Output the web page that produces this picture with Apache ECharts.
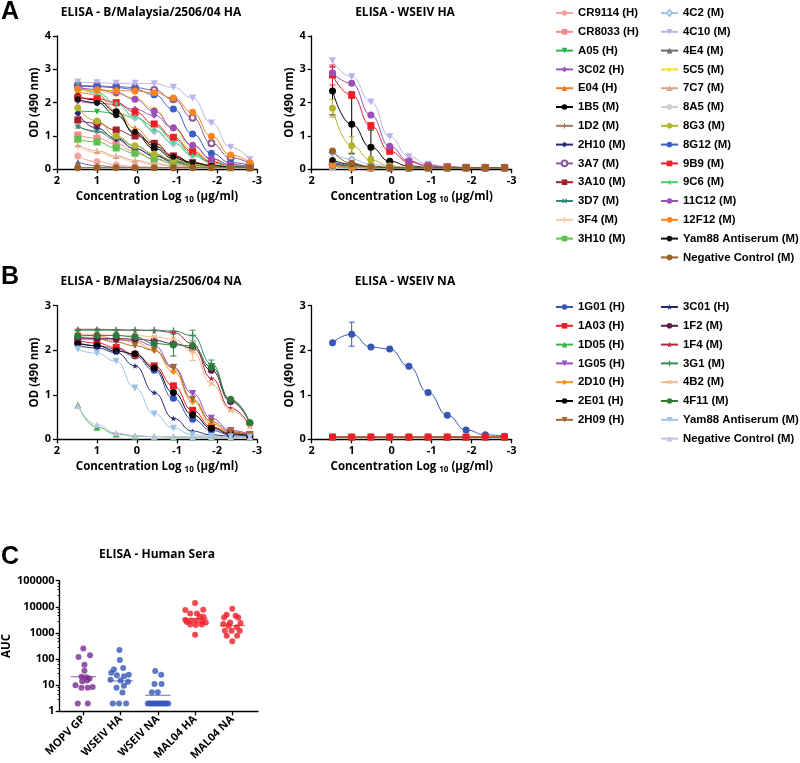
<!DOCTYPE html>
<html><head><meta charset="utf-8">
<script src="https://cdn.jsdelivr.net/npm/echarts@6/dist/echarts.min.js"></script>
<style>html,body{margin:0;padding:0;background:#fff}#c{width:800px;height:763px}</style>
</head><body><div id="c"></div>
<script>
// ---------- DATA ----------
const concLog = [1.48, 1.0, 0.52, 0.05, -0.43, -0.91, -1.39, -1.86, -2.34, -2.82];

// Panel A legend names (two columns)
const aNamesCol1 = ['CR9114 (H)','CR8033 (H)','A05 (H)','3C02 (H)','E04 (H)','1B5 (M)','1D2 (M)','2H10 (M)','3A7 (M)','3A10 (M)','3D7 (M)','3F4 (M)','3H10 (M)'];
const aNamesCol2 = ['4C2 (M)','4C10 (M)','4E4 (M)','5C5 (M)','7C7 (M)','8A5 (M)','8G3 (M)','8G12 (M)','9B9 (M)','9C6 (M)','11C12 (M)','12F12 (M)','Yam88 Antiserum (M)','Negative Control (M)'];

// Panel A left: ELISA - B/Malaysia/2506/04 HA  (OD 490 nm)
const aMalHA = {
 'CR9114 (H)': [0.40,0.23,0.13,0.08,0.06,0.05,0.05,0.05,0.05,0.05],
 'CR8033 (H)': [1.03,0.93,0.76,0.53,0.30,0.16,0.09,0.06,0.05,0.05],
 'A05 (H)':    [1.75,1.73,1.68,1.55,1.30,0.90,0.47,0.22,0.10,0.06],
 '3C02 (H)':   [2.05,1.98,1.95,1.80,1.62,1.23,0.71,0.31,0.13,0.08],
 'E04 (H)':    [2.32,2.25,1.75,1.23,0.80,0.42,0.20,0.10,0.07,0.05],
 '1B5 (M)':    [2.18,2.08,1.73,1.06,0.63,0.33,0.18,0.10,0.06,0.05],
 '1D2 (M)':    [1.30,1.12,0.88,0.62,0.42,0.25,0.14,0.09,0.06,0.05],
 '2H10 (M)':   [1.68,1.23,0.92,0.62,0.40,0.23,0.13,0.08,0.06,0.05],
 '3A7 (M)':    [2.52,2.50,2.48,2.45,2.38,2.10,1.55,0.78,0.35,0.17],
 '3A10 (M)':   [1.48,1.38,1.18,1.00,0.78,0.40,0.20,0.13,0.08,0.06],
 '3D7 (M)':    [1.28,1.15,0.95,0.70,0.45,0.26,0.14,0.09,0.06,0.05],
 '3F4 (M)':    [0.68,0.50,0.35,0.22,0.14,0.09,0.07,0.05,0.05,0.05],
 '3H10 (M)':   [0.90,0.82,0.64,0.48,0.32,0.19,0.11,0.07,0.05,0.05],
 '4C2 (M)':    [2.45,2.30,2.00,1.55,1.15,0.78,0.42,0.20,0.10,0.07],
 '4C10 (M)':   [2.62,2.60,2.58,2.58,2.57,2.46,2.14,1.39,0.66,0.29],
 '4E4 (M)':    [0.22,0.11,0.07,0.05,0.05,0.05,0.05,0.05,0.05,0.05],
 '5C5 (M)':    [2.38,2.35,2.25,2.15,1.82,1.22,0.58,0.26,0.12,0.08],
 '7C7 (M)':    [0.75,0.55,0.40,0.27,0.17,0.11,0.08,0.06,0.05,0.05],
 '8A5 (M)':    [0.06,0.05,0.05,0.05,0.05,0.05,0.05,0.05,0.05,0.05],
 '8G3 (M)':    [1.85,1.45,1.00,0.71,0.46,0.28,0.15,0.09,0.06,0.05],
 '8G12 (M)':   [2.50,2.48,2.45,2.40,2.24,1.81,1.06,0.48,0.20,0.12],
 '9B9 (M)':    [2.15,2.12,2.00,1.72,1.36,0.96,0.53,0.23,0.10,0.06],
 '9C6 (M)':    [2.55,2.30,1.98,1.58,1.18,0.80,0.42,0.19,0.09,0.06],
 '11C12 (M)':  [2.45,2.40,2.30,2.10,1.75,1.25,0.72,0.32,0.14,0.08],
 '12F12 (M)':  [2.40,2.38,2.36,2.35,2.30,2.14,1.71,0.99,0.43,0.20],
 'Yam88 Antiserum (M)': [2.10,2.00,1.62,1.12,0.70,0.38,0.20,0.11,0.07,0.05],
 'Negative Control (M)': [0.05,0.05,0.05,0.05,0.05,0.05,0.05,0.05,0.05,0.05]
};

// Panel A right: ELISA - WSEIV HA
const aWseivHA = {
 'CR9114 (H)': [0.05,0.05,0.05,0.05,0.05,0.05,0.05,0.05,0.05,0.05],
 'CR8033 (H)': [0.15,0.07,0.05,0.05,0.05,0.05,0.05,0.05,0.05,0.05],
 'A05 (H)':    [0.10,0.06,0.05,0.05,0.05,0.05,0.05,0.05,0.05,0.05],
 '3C02 (H)':   [0.12,0.07,0.05,0.05,0.05,0.05,0.05,0.05,0.05,0.05],
 'E04 (H)':    [0.08,0.05,0.05,0.05,0.05,0.05,0.05,0.05,0.05,0.05],
 '1B5 (M)':    [2.35,1.35,0.66,0.24,0.10,0.06,0.05,0.05,0.05,0.05],
 '1D2 (M)':    [0.10,0.06,0.05,0.05,0.05,0.05,0.05,0.05,0.05,0.05],
 '2H10 (M)':   [0.18,0.10,0.06,0.05,0.05,0.05,0.05,0.05,0.05,0.05],
 '3A7 (M)':    [0.15,0.08,0.05,0.05,0.05,0.05,0.05,0.05,0.05,0.05],
 '3A10 (M)':   [0.20,0.10,0.06,0.05,0.05,0.05,0.05,0.05,0.05,0.05],
 '3D7 (M)':    [0.22,0.12,0.07,0.05,0.05,0.05,0.05,0.05,0.05,0.05],
 '3F4 (M)':    [0.08,0.05,0.05,0.05,0.05,0.05,0.05,0.05,0.05,0.05],
 '3H10 (M)':   [0.10,0.06,0.05,0.05,0.05,0.05,0.05,0.05,0.05,0.05],
 '4C2 (M)':    [0.50,0.30,0.15,0.08,0.06,0.05,0.05,0.05,0.05,0.05],
 '4C10 (M)':   [3.26,2.78,2.02,0.98,0.38,0.15,0.08,0.06,0.05,0.05],
 '4E4 (M)':    [0.20,0.10,0.06,0.05,0.05,0.05,0.05,0.05,0.05,0.05],
 '5C5 (M)':    [0.10,0.06,0.05,0.05,0.05,0.05,0.05,0.05,0.05,0.05],
 '7C7 (M)':    [0.10,0.06,0.05,0.05,0.05,0.05,0.05,0.05,0.05,0.05],
 '8A5 (M)':    [0.05,0.05,0.05,0.05,0.05,0.05,0.05,0.05,0.05,0.05],
 '8G3 (M)':    [1.83,0.71,0.28,0.10,0.06,0.05,0.05,0.05,0.05,0.05],
 '8G12 (M)':   [0.10,0.06,0.05,0.05,0.05,0.05,0.05,0.05,0.05,0.05],
 '9B9 (M)':    [2.83,2.23,1.31,0.54,0.22,0.10,0.07,0.05,0.05,0.05],
 '9C6 (M)':    [0.10,0.06,0.05,0.05,0.05,0.05,0.05,0.05,0.05,0.05],
 '11C12 (M)':  [2.90,2.58,1.63,0.69,0.25,0.11,0.07,0.05,0.05,0.05],
 '12F12 (M)':  [0.12,0.07,0.05,0.05,0.05,0.05,0.05,0.05,0.05,0.05],
 'Yam88 Antiserum (M)': [0.28,0.15,0.08,0.05,0.05,0.05,0.05,0.05,0.05,0.05],
 'Negative Control (M)': [0.55,0.18,0.08,0.06,0.05,0.05,0.05,0.05,0.05,0.05]
};
// error bars (SD) for WSEIV HA
const aWseivHAErr = {
 '1B5 (M)': [0.72,0.87,0.52,0,0,0,0,0,0,0],
 '8G3 (M)': [0.27,0.26,0.10,0,0,0,0,0,0,0],
 '9B9 (M)': [0.30,0.10,0.08,0,0,0,0,0,0,0]
};

// Panel B legend names
const bNamesCol1 = ['1G01 (H)','1A03 (H)','1D05 (H)','1G05 (H)','2D10 (H)','2E01 (H)','2H09 (H)'];
const bNamesCol2 = ['3C01 (H)','1F2 (M)','1F4 (M)','3G1 (M)','4B2 (M)','4F11 (M)','Yam88 Antiserum (M) ','Negative Control (M) '];

// Panel B left: ELISA - B/Malaysia/2506/04 NA
const bMalNA = {
 '1G01 (H)': [2.17,2.10,2.03,1.87,1.55,0.92,0.45,0.20,0.10,0.07],
 '1A03 (H)': [2.22,2.16,2.06,1.90,1.65,1.20,0.65,0.28,0.14,0.10],
 '1D05 (H)': [0.77,0.27,0.12,0.07,0.06,0.05,0.05,0.05,0.05,0.05],
 '1G05 (H)': [2.25,2.25,2.23,2.22,2.10,1.62,1.03,0.47,0.20,0.11],
 '2D10 (H)': [2.38,2.32,2.25,2.18,2.00,1.52,0.85,0.35,0.15,0.09],
 '2E01 (H)': [2.15,2.10,1.98,1.92,1.60,1.05,0.55,0.25,0.12,0.08],
 '2H09 (H)': [2.30,2.25,2.18,2.10,2.00,1.60,0.90,0.40,0.17,0.10],
 '3C01 (H)': [2.10,2.05,1.95,1.65,1.05,0.47,0.18,0.10,0.07,0.06],
 '1F2 (M)':  [2.28,2.27,2.26,2.25,2.22,2.15,2.05,1.55,0.85,0.36],
 '1F4 (M)':  [2.47,2.47,2.46,2.45,2.44,2.40,2.15,1.37,0.70,0.30],
 '3G1 (M)':  [2.45,2.45,2.45,2.45,2.45,2.43,2.33,1.70,0.88,0.36],
 '4B2 (M)':  [2.35,2.35,2.34,2.33,2.30,2.25,1.97,1.25,0.65,0.28],
 '4F11 (M)': [2.32,2.33,2.33,2.30,2.15,2.12,2.10,1.62,0.90,0.38],
 'Yam88 Antiserum (M) ':  [2.02,1.93,1.75,1.15,0.57,0.25,0.10,0.07,0.06,0.05],
 'Negative Control (M) ': [0.75,0.33,0.14,0.08,0.06,0.06,0.05,0.05,0.05,0.05]
};
const bMalNAErr = {
 '4F11 (M)': [0,0,0,0,0,0.25,0,0,0,0],
 '4B2 (M)':  [0,0,0,0,0,0,0.2,0,0,0],
 '3G1 (M)':  [0,0,0,0,0,0,0.12,0.08,0,0]
};

// Panel B right: ELISA - WSEIV NA
const bWseivNA = {
 '1G01 (H)': [2.17,2.36,2.07,2.03,1.64,1.05,0.54,0.21,0.10,0.07],
 '1D05 (H)': [0.05,0.05,0.05,0.05,0.05,0.05,0.05,0.05,0.05,0.05],
 '2D10 (H)': [0.05,0.05,0.05,0.05,0.05,0.05,0.05,0.05,0.05,0.05],
 '4F11 (M)': [0.05,0.05,0.05,0.05,0.05,0.05,0.05,0.05,0.05,0.05],
 '1A03 (H)': [0.05,0.05,0.05,0.05,0.05,0.05,0.05,0.05,0.05,0.05]
};
const bWseivNAErr = { '1G01 (H)': [0,0.27,0,0,0,0,0,0,0,0] };

// Panel C: ELISA - Human Sera (AUC)
const cCats = ['MOPV GP','WSEIV HA','WSEIV NA','MAL04 HA','MAL04 NA'];
const cMOPV   = [255,120,140,61,36,21,20,18,14,15,10,8.5,8,8,2,2];
const cMOPVdx = [0,-0.13,0.18,0.03,0.03,-0.05,0.08,0.17,-0.03,0.1,-0.21,0.25,-0.05,0.12,-0.15,0.12];
const cWHA    = [220,93,45,40,30,24,22,25,16,15,13.5,8,9.4,5.2,2,2,2];
const cWHAdx  = [-0.03,-0.02,0.07,-0.18,-0.25,-0.1,0.09,0.22,-0.27,0,0.2,-0.11,0.09,0.05,-0.21,-0.04,0.15];
const cWNA    = [35,25,11,11,5.3,5.3,2,2,2,2,2,2,2,2,2,2,2,2];
const cWNAdx  = [-0.07,0.09,-0.09,0.1,-0.16,0,-0.27,-0.22,-0.17,-0.12,-0.07,-0.02,0.03,0.08,0.13,0.18,0.23,0.28];
const cMHA    = [14000,7500,7800,5600,5500,4300,4100,3100,3000,2900,2600,2700,2500,2100,2000,2100,850];
const cMHAdx  = [0,-0.26,0.22,-0.13,0.05,0.13,0.23,-0.26,-0.1,0.04,-0.22,0.19,0.29,-0.13,0.02,0.18,0];
const cMNA    = [8500,5000,4600,3900,3900,2500,2400,2200,1900,1650,1200,1200,1200,780,780,480];
const cMNAdx  = [0,-0.15,0.09,-0.22,0.16,-0.06,0.22,-0.24,-0.1,0.12,-0.2,-0.02,0.2,-0.15,0.13,0];
const cCentral = [21,14.5,4.1,3500,1900];

// ---------- STYLES ----------
const F = 'Open Sans';
const LF = 'Liberation Sans';
const PLUS = 'path://M0,4H10V6H0Z M4,0H6V10H4Z';
const STAR = 'path://M5,0L6.2,3.6L10,3.8L7,6.1L8.1,9.8L5,7.6L1.9,9.8L3,6.1L0,3.8L3.8,3.6Z';
const TEE = 'path://M0,4H10V6H0Z M4,0H6V6H4Z';
const styleA = {
 'CR9114 (H)': ['#f5a3a3','circle',7],
 'CR8033 (H)': ['#f28a8a','rect',7],
 'A05 (H)':    ['#2cb34a','triangle',6,180],
 '3C02 (H)':   ['#9b59b6','diamond',7],
 'E04 (H)':    ['#f47c20','triangle',7],
 '1B5 (M)':    ['#000000','circle',7],
 '1D2 (M)':    ['#9c7a5c',PLUS,6],
 '2H10 (M)':   ['#27287a','diamond',7],
 '3A7 (M)':    ['#8a5a9a','emptyCircle',6],
 '3A10 (M)':   ['#a3202a','rect',7],
 '3D7 (M)':    ['#2f8a78',PLUS,6,45],
 '3F4 (M)':    ['#f7c9a6',PLUS,6],
 '3H10 (M)':   ['#5cc24a','rect',7],
 '4C2 (M)':    ['#a3c4e6','emptyDiamond',6],
 '4C10 (M)':   ['#b9b5ea','triangle',7,180],
 '4E4 (M)':    ['#6b6b6b','triangle',6],
 '5C5 (M)':    ['#f2e22a',STAR,7],
 '7C7 (M)':    ['#d9a585',TEE,6],
 '8A5 (M)':    ['#cfcfcf','circle',6],
 '8G3 (M)':    ['#b4b42c','circle',7],
 '8G12 (M)':   ['#3a5fc4','circle',7],
 '9B9 (M)':    ['#ef1f28','rect',7],
 '9C6 (M)':    ['#4cd06a',STAR,6],
 '11C12 (M)':  ['#9b4fb8','circle',7],
 '12F12 (M)':  ['#f7861e','circle',7],
 'Yam88 Antiserum (M)':  ['#111111','circle',6],
 'Negative Control (M)': ['#9a6228','circle',7]
};
const styleB = {
 '1G01 (H)': ['#3656b5','circle',7],
 '1A03 (H)': ['#ee1c25','rect',7],
 '1D05 (H)': ['#3cb44b','triangle',7],
 '1G05 (H)': ['#9a4fc4','triangle',7,180],
 '2D10 (H)': ['#f7931e','diamond',7],
 '2E01 (H)': ['#000000','circle',7],
 '2H09 (H)': ['#a0692a','triangle',7,180],
 '3C01 (H)': ['#27287a',STAR,6],
 '1F2 (M)':  ['#5e1a4c','circle',7],
 '1F4 (M)':  ['#b02a3e',STAR,6],
 '3G1 (M)':  ['#3a8a5e',PLUS,7],
 '4B2 (M)':  ['#f7b98a',PLUS,7,45],
 '4F11 (M)': ['#2f7a3a','circle',7],
 'Yam88 Antiserum (M) ':  ['#9cc3e6','triangle',7,180],
 'Negative Control (M) ': ['#c3c0ea','triangle',6]
};

function curve(name, vals, st, gi) {
 return {
  type:'line', name, xAxisIndex:gi, yAxisIndex:gi,
  data: concLog.map((x,i)=>[x, vals[i]]),
  smooth:0.5, smoothMonotone:'x',
  symbol: st[1], symbolSize: st[2], symbolRotate: st[3]||0,
  itemStyle:{color:st[0], borderWidth: st[1].startsWith('empty')?1.2:0},
  lineStyle:{color:st[0], width:1},
  emphasis:{disabled:true}, animation:false, z:3
 };
}
function errBars(vals, errs, color, gi) {
 const d = [];
 concLog.forEach((x,i)=>{ if (errs[i] > 0) d.push([x, vals[i], errs[i]]); });
 return {
  type:'custom', xAxisIndex:gi, yAxisIndex:gi, data:d, z:2, animation:false, silent:true,
  renderItem(params, api) {
   const x = api.value(0), y = api.value(1), e = api.value(2);
   const p1 = api.coord([x, y+e]), p2 = api.coord([x, Math.max(0,y-e)]);
   const w = 3, s = {stroke:color, lineWidth:1};
   return {type:'group', children:[
    {type:'line', shape:{x1:p1[0],y1:p1[1],x2:p2[0],y2:p2[1]}, style:s},
    {type:'line', shape:{x1:p1[0]-w,y1:p1[1],x2:p1[0]+w,y2:p1[1]}, style:s},
    {type:'line', shape:{x1:p2[0]-w,y1:p2[1],x2:p2[0]+w,y2:p2[1]}, style:s}
   ]};
  }
 };
}

const series = [];
Object.keys(aMalHA).forEach(n => series.push(curve(n, aMalHA[n], styleA[n], 0)));
Object.keys(aWseivHA).forEach(n => series.push(curve(n, aWseivHA[n], styleA[n], 1)));
Object.keys(aWseivHAErr).forEach(n => series.push(errBars(aWseivHA[n], aWseivHAErr[n], styleA[n][0], 1)));
Object.keys(bMalNA).forEach(n => series.push(curve(n, bMalNA[n], styleB[n], 2)));
Object.keys(bMalNAErr).forEach(n => series.push(errBars(bMalNA[n], bMalNAErr[n], styleB[n][0], 2)));
Object.keys(bWseivNA).forEach(n => series.push(curve(n, bWseivNA[n], styleB[n], 3)));
Object.keys(bWseivNAErr).forEach(n => series.push(errBars(bWseivNA[n], bWseivNAErr[n], styleB[n][0], 3)));

const cGroups = [[cMOPV,cMOPVdx,'#7b2a8e'],[cWHA,cWHAdx,'#3656b5'],[cWNA,cWNAdx,'#3656b5'],[cMHA,cMHAdx,'#ee1c25'],[cMNA,cMNAdx,'#ee1c25']];
cGroups.forEach((g,ci)=>{
 series.push({type:'scatter', xAxisIndex:4, yAxisIndex:4, symbol:'circle', symbolSize:6,
  itemStyle:{color:g[2]}, data:g[0].map((v,i)=>[ci+g[1][i], v]), animation:false, silent:true, z:3});
 series.push({type:'line', xAxisIndex:4, yAxisIndex:4, symbol:'none',
  lineStyle:{color:g[2], width:1, opacity:0.8}, data:[[ci-0.34,cCentral[ci]],[ci+0.34,cCentral[ci]]], animation:false, silent:true, z:4});
});

// ---------- AXES ----------
const axisCommon = {
 axisLine:{show:true, onZero:false, lineStyle:{color:'#000', width:1.3}},
 axisTick:{show:true, length:4, lineStyle:{color:'#000', width:1.3}},
 splitLine:{show:false}
};
const tickFont = {color:'#000', fontWeight:'bold', fontSize:11, fontFamily:F};
const nameFont = {color:'#000', fontWeight:'bold', fontSize:11.5, fontFamily:F};
function xConc(gi) {
 return Object.assign({type:'value', gridIndex:gi, inverse:true, min:-3, max:2, interval:1,
  axisLabel:Object.assign({margin:6}, tickFont),
  name:'Concentration Log {s|10} (µg/ml)', nameLocation:'middle', nameGap:20,
  nameTextStyle:Object.assign({lineHeight:14, rich:{s:{fontSize:8, fontWeight:'bold', fontFamily:F, color:'#000', verticalAlign:'bottom', lineHeight:10}}}, nameFont)
 }, axisCommon);
}
function yOD(gi, max) {
 return Object.assign({type:'value', gridIndex:gi, min:0, max:max, interval:1,
  axisLabel:Object.assign({margin:6}, tickFont),
  name:'OD (490 nm)', nameLocation:'middle', nameGap:14, nameRotate:90, nameTextStyle:nameFont
 }, axisCommon);
}
const xAxes = [xConc(0), xConc(1), xConc(2), xConc(3),
 Object.assign({type:'value', gridIndex:4, min:-0.636, max:4.69,
  axisLabel:Object.assign({rotate:45, margin:6, customValues:[0,1,2,3,4], formatter:v=>cCats[Math.round(v)]}, tickFont),
 }, axisCommon, {axisTick:{show:true, length:4, customValues:[0,1,2,3,4], lineStyle:{color:'#000', width:1.3}}})
];
const yAxes = [yOD(0,4), yOD(1,4), yOD(2,3), yOD(3,3),
 Object.assign({type:'log', logBase:10, gridIndex:4, min:1, max:100000,
  axisLabel:Object.assign({margin:5, formatter:v=>String(Math.round(v))}, tickFont),
  minorTick:{show:true, splitNumber:5, length:2, lineStyle:{color:'#000', width:1}},
  name:'AUC', nameLocation:'middle', nameGap:36, nameRotate:90, nameTextStyle:nameFont
 }, axisCommon)
];

const grids = [
 {left:57, top:36, width:200, height:133.3},
 {left:311.7, top:36, width:200, height:133.3},
 {left:57, top:305.7, width:200, height:133.6},
 {left:311.7, top:305.7, width:200, height:133.6},
 {left:57, top:580.7, width:201, height:133.6}
];

const titleStyle = {fontSize:12, fontWeight:'bold', fontFamily:F, color:'#000'};
const letterStyle = {fontSize:25, fontWeight:'bold', fontFamily:LF, color:'#000'};
const titles = [
 {text:'A', left:1, top:0, padding:0, textStyle:letterStyle},
 {text:'B', left:1, top:265, padding:0, textStyle:letterStyle},
 {text:'C', left:1, top:545, padding:0, textStyle:letterStyle},
 {text:'ELISA - B/Malaysia/2506/04 HA', left:151, textAlign:'center', top:7, padding:0, textStyle:titleStyle},
 {text:'ELISA - WSEIV HA', left:405, textAlign:'center', top:7, padding:0, textStyle:titleStyle},
 {text:'ELISA - B/Malaysia/2506/04 NA', left:151, textAlign:'center', top:276, padding:0, textStyle:titleStyle},
 {text:'ELISA - WSEIV NA', left:405, textAlign:'center', top:276, padding:0, textStyle:titleStyle},
 {text:'ELISA - Human Sera', left:157, textAlign:'center', top:549, padding:0, textStyle:titleStyle}
];

function legend(names, left, top) {
 return {data:names, orient:'vertical', left, top, itemWidth:17, itemHeight:7, itemGap:4.8, padding:0,
  selectedMode:false,
  textStyle:{fontFamily:LF, fontWeight:'bold', fontSize:11.4, color:'#000', lineHeight:14}};
}
const legends = [
 legend(aNamesCol1, 555, 6), legend(aNamesCol2, 660, 6),
 legend(bNamesCol1, 555, 300), legend(bNamesCol2, 660, 300)
];

const chart = echarts.init(document.getElementById('c'), null, {renderer:'canvas'});
chart.setOption({
 animation:false, backgroundColor:'#fff',
 title:titles, legend:legends, grid:grids, xAxis:xAxes, yAxis:yAxes, series
});
</script></body></html>
